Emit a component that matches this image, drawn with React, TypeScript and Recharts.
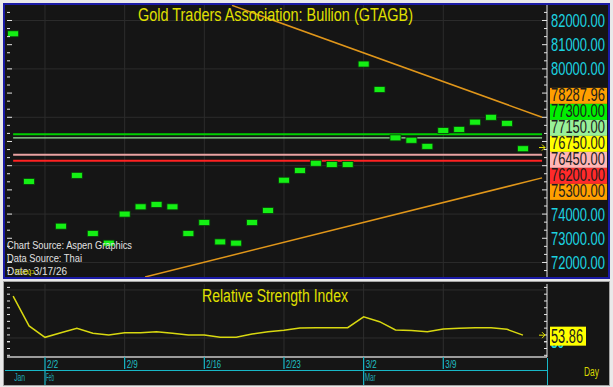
import React from 'react'
import {
  ComposedChart,
  Scatter,
  Line,
  XAxis,
  YAxis,
  CartesianGrid,
  ReferenceLine,
} from 'recharts'

// trading days (2/2 has no bullion print but the RSI still has a point)
const days = [
  '1/29', '1/30', '2/2', '2/3', '2/4', '2/5', '2/6', '2/9', '2/10', '2/11', '2/12',
  '2/13', '2/16', '2/17', '2/18', '2/19', '2/20', '2/23', '2/24', '2/25', '2/26',
  '2/27', '3/2', '3/3', '3/4', '3/5', '3/6', '3/9', '3/10', '3/11', '3/12', '3/13', '3/16',
]
const closes = [
  81450, 75350, null, 73500, 75600, 73200, 72800, 74000, 74300, 74400, 74300,
  73200, 73650, 72850, 72800, 73650, 74150, 75400, 75800, 76100, 76050,
  76050, 80200, 79150, 77150, 77050, 76800, 77450, 77500, 77800, 78000, 77750, 76700,
]
const rsiValues = [
  76.9, 59.3, 52.6, 55.3, 57.9, 55.0, 54.0, 55.3, 55.3, 55.9, 55.0,
  54.0, 54.0, 52.6, 52.6, 54.5, 55.9, 56.7, 58.1, 58.3, 58.3,
  58.3, 64.7, 61.8, 56.9, 56.6, 55.9, 57.5, 57.9, 58.3, 58.2, 57.3, 53.86,
]

const weekTicks = [0, 5, 10, 15, 20, 25]
const monthStarts = [
  { k: -2, label: 'Jan' },
  { k: 0, label: 'Feb' },
  { k: 20, label: 'Mar' },
]
const priceGrid = [72000, 74000, 76000, 78000, 80000, 82000]
const priceLabels = [72000, 73000, 74000, 80000, 81000, 82000]
const levelValues = [77300, 77150, 76450, 76200]
const upperTrend = [{ k: 11.74, v: 82623 }, { k: 31.2, v: 78003 }]
const lowerTrend = [{ k: 6.28, v: 71400 }, { k: 31.2, v: 75497 }]
const tagValues = [78287.96, 77300, 77150, 76750, 76450, 76200, 75300]
const lastPrice = 76750
const lastRsi = 53.86
const rsiGrid = [52.2, 80.5]

const levelStyle = [
  { color: '#00d000', width: 2 },
  { color: '#9ee49e', width: 1.2 },
  { color: '#eaa2a2', width: 2 },
  { color: '#ff2222', width: 2 },
]
const tagColors = ['#ff9f00', '#00f000', '#98f098', '#ffff00', '#ffb6b6', '#ff2a2a', '#ff9f00']

const FONT = '"Liberation Sans", Arial, sans-serif'
const BG = '#151515'
const W = 602
const AXIS_W = 60
const PLOT_L = 2
const PLOT_R = W - AXIS_W
const TOP_H = 272
const P_MIN = 71400
const P_MAX = 82640
const K_MIN = -2.385
const K_MAX = 31.51
const RSI_H = 102
const RSI_PLOT_H = 73
const RSI_MIN = 41
const RSI_MAX = 84
const TAG_H = 16

const bars = days
  .map((d, i) => ({ day: d, k: i - 2, v: closes[i] }))
  .filter(b => b.v !== null)
const rsiData = days.map((d, i) => ({ day: d, k: i - 2, v: rsiValues[i] }))

const priceTicks: number[] = []
for (let i = -1; i <= 31; i++) priceTicks.push(72000 + (i * 1000) / 3)
const rsiTicks: number[] = []
for (let v = 42; v <= 82; v += 4) rsiTicks.push(v)

const py = (v: number) => ((P_MAX - v) / (P_MAX - P_MIN)) * TOP_H

// narrow numeric text: Arial-metric width, squeezed horizontally to fit
const charW = (c: string) => (c === '.' || c === '/' ? 0.278 : 0.556)
function Squeezed({ x, y, size, width, fill, text }: any) {
  const natural = text.split('').reduce((s: number, c: string) => s + charW(c), 0) * size
  return (
    <text
      transform={`translate(${x},${y}) scale(${width / natural},1)`}
      fontSize={size}
      fontFamily={FONT}
      fill={fill}
    >
      {text}
    </text>
  )
}

function Arrow({ x, y }: { x: number; y: number }) {
  return (
    <g stroke="#e8e800" strokeWidth={1} fill="none">
      <line x1={x} x2={x + 6} y1={y} y2={y} />
      <polyline points={`${x + 3},${y - 3} ${x + 6},${y} ${x + 3},${y + 3}`} />
    </g>
  )
}

function PriceTick(props: any) {
  const { y, payload } = props
  const v = payload.value
  const idx = tagValues.indexOf(v)
  if (idx >= 0) {
    const mean = tagValues.reduce((s, t) => s + py(t), 0) / tagValues.length
    const top = mean - 3 - (tagValues.length * TAG_H) / 2 + idx * TAG_H
    return (
      <g>
        {v === lastPrice && <Arrow x={PLOT_R - 8} y={y} />}
        <rect x={PLOT_R + 3} y={top} width={57} height={TAG_H} fill={tagColors[idx]} />
        <Squeezed x={PLOT_R + 4} y={top + TAG_H - 2.5} size={18} width={54} fill="#1c1c1c" text={v.toFixed(2)} />
      </g>
    )
  }
  const major = Math.abs(v / 1000 - Math.round(v / 1000)) < 0.01
  const len = major ? 5 : 3
  return (
    <g>
      <line x1={PLOT_L} x2={PLOT_L + len} y1={y} y2={y} stroke="#e6e6e6" />
      <line x1={PLOT_R - len} x2={PLOT_R} y1={y} y2={y} stroke="#e6e6e6" />
      {major && priceLabels.includes(Math.round(v)) && (
        <Squeezed x={PLOT_R + 4} y={y + 6.5} size={18} width={54} fill="#1cd3e0" text={Math.round(v).toFixed(2)} />
      )}
    </g>
  )
}

function RsiTick(props: any) {
  const { y, payload } = props
  const v = payload.value
  if (v === lastRsi) {
    return (
      <g>
        <Arrow x={PLOT_R - 8} y={y} />
        <rect x={PLOT_R + 3} y={y - 8.5} width={36} height={19} fill="#ffff00" />
        <Squeezed x={PLOT_R + 4} y={y + 8} size={21} width={32} fill="#1c1c1c" text={v.toFixed(2)} />
      </g>
    )
  }
  return (
    <g>
      <line x1={PLOT_L} x2={PLOT_L + 3} y1={y} y2={y} stroke="#e6e6e6" />
      <line x1={PLOT_R - 3} x2={PLOT_R} y1={y} y2={y} stroke="#e6e6e6" />
      {v === 50 && <Squeezed x={PLOT_R + 4} y={y + 6.5} size={18} width={13} fill="#1cd3e0" text="50" />}
    </g>
  )
}

function DateTick(props: any) {
  const { x, payload } = props
  const k = payload.value
  const axisTop = 1 + RSI_PLOT_H
  const month = monthStarts.find(m => m.k === k)
  const isWeek = weekTicks.includes(k)
  const label = isWeek ? days[k + 2] : null
  return (
    <g fontFamily={FONT}>
      {isWeek && (
        <line x1={x} x2={x} y1={axisTop} y2={axisTop + (month ? 28 : 12)} stroke="#18b8c8" strokeWidth={1.2} />
      )}
      {label && (
        <text x={x + 2} y={axisTop + 11} fontSize={11} fill="#20c0c8" textLength={label.length * 3.7} lengthAdjust="spacingAndGlyphs">
          {label}
        </text>
      )}
      {month && (
        <text x={x + 1} y={axisTop + 24} fontSize={11} fill="#1fa8b4" textLength={month.label === 'Feb' ? 8 : 11} lengthAdjust="spacingAndGlyphs">
          {month.label}
        </text>
      )}
    </g>
  )
}

export default function App() {
  return (
    <div style={{ position: 'absolute', left: 0, top: 0, width: 613, height: 387, background: '#e9e9e9', overflow: 'hidden' }}>
      {/* price panel */}
      <div style={{ position: 'absolute', left: 3, top: 3, width: 607, height: 276, boxSizing: 'border-box', border: '2px solid #1a1aa6', background: BG }} />
      {/* rsi panel */}
      <div style={{ position: 'absolute', left: 3, top: 281, width: 607, height: 105, boxSizing: 'border-box', border: '1px solid #a4a4a4', background: BG }} />

      <div style={{ position: 'absolute', left: 5, top: 5 }}>
        <ComposedChart width={W} height={TOP_H} margin={{ top: 0, right: 0, bottom: 0, left: PLOT_L }}>
          <CartesianGrid stroke="#2c2c2c" horizontalValues={priceGrid} verticalValues={weekTicks} />
          <XAxis type="number" dataKey="k" domain={[K_MIN, K_MAX]} allowDataOverflow hide />
          <YAxis
            orientation="right"
            dataKey="v"
            width={AXIS_W}
            domain={[P_MIN, P_MAX]}
            allowDataOverflow
            ticks={[...priceTicks, ...tagValues]}
            interval={0}
            axisLine={{ stroke: '#e6e6e6' }}
            tickLine={false}
            tick={(p: any) => <PriceTick {...p} />}
          />
          {levelValues.map((lv, i) => (
            <ReferenceLine
              key={lv}
              segment={[{ x: -2, y: lv }, { x: 31.2, y: lv }]}
              stroke={levelStyle[i].color}
              strokeWidth={levelStyle[i].width}
            />
          ))}
          <Line data={upperTrend} dataKey="v" type="linear" stroke="#e0961a" strokeWidth={1.5} dot={false} isAnimationActive={false} />
          <Line data={lowerTrend} dataKey="v" type="linear" stroke="#e0961a" strokeWidth={1.5} dot={false} isAnimationActive={false} />
          <Scatter
            data={bars}
            dataKey="v"
            isAnimationActive={false}
            shape={(p: any) => (
              <rect x={p.cx - 5.5} y={p.cy - 3} width={11} height={6} fill="#14f014" stroke="#0b3a0b" strokeWidth={0.8} />
            )}
          />
        </ComposedChart>
      </div>

      <div style={{ position: 'absolute', left: 5, top: 283 }}>
        <ComposedChart width={W} height={RSI_H} data={rsiData} margin={{ top: 1, right: 0, bottom: 0, left: PLOT_L }}>
          <CartesianGrid stroke="#2e2e2e" horizontalValues={rsiGrid} verticalValues={weekTicks} />
          <XAxis
            type="number"
            dataKey="k"
            domain={[K_MIN, K_MAX]}
            allowDataOverflow
            ticks={[-2, ...weekTicks]}
            interval={0}
            height={RSI_H - 1 - RSI_PLOT_H}
            axisLine={{ stroke: '#c8c8c8', strokeWidth: 1.5 }}
            tickLine={false}
            tick={(p: any) => <DateTick {...p} />}
          />
          <YAxis
            orientation="right"
            dataKey="v"
            width={AXIS_W}
            domain={[RSI_MIN, RSI_MAX]}
            allowDataOverflow
            ticks={[...rsiTicks, 50, lastRsi]}
            interval={0}
            axisLine={{ stroke: '#e6e6e6' }}
            tickLine={false}
            tick={(p: any) => <RsiTick {...p} />}
          />
          <Line dataKey="v" type="linear" stroke="#d8d810" strokeWidth={1.5} dot={false} isAnimationActive={false} />
        </ComposedChart>
      </div>

      {/* axis rules of the date strip */}
      <div style={{ position: 'absolute', left: 5, top: 370, width: 543, height: 1, background: '#18b8c8' }} />
      <div style={{ position: 'absolute', left: 547, top: 358, width: 1, height: 27, background: '#18b8c8' }} />

      <svg width={613} height={387} style={{ position: 'absolute', left: 0, top: 0, pointerEvents: 'none' }} fontFamily={FONT}>
        <text x={138} y={21} fontSize={18.5} fill="#e0e000" textLength={275} lengthAdjust="spacingAndGlyphs">
          Gold Traders Association: Bullion (GTAGB)
        </text>
        <text x={7} y={249} fontSize={11.5} fill="#e2e2e2" textLength={125} lengthAdjust="spacingAndGlyphs">
          Chart Source: Aspen Graphics
        </text>
        <text x={7} y={262} fontSize={11.5} fill="#e2e2e2" textLength={75} lengthAdjust="spacingAndGlyphs">
          Data Source: Thai
        </text>
        <text x={7} y={275} fontSize={11.5} fill="#e2e2e2" textLength={60} lengthAdjust="spacingAndGlyphs">
          Date: 3/17/26
        </text>
        <text x={15} y={274} fontSize={8} fill="#b8b800" textLength={20} lengthAdjust="spacingAndGlyphs">
          Gap
        </text>
        <text x={202} y={302} fontSize={17.5} fill="#e0e000" textLength={146} lengthAdjust="spacingAndGlyphs">
          Relative Strength Index
        </text>
        <text x={584} y={376} fontSize={12} fill="#d8d800" textLength={15} lengthAdjust="spacingAndGlyphs">
          Day
        </text>
      </svg>
    </div>
  )
}
